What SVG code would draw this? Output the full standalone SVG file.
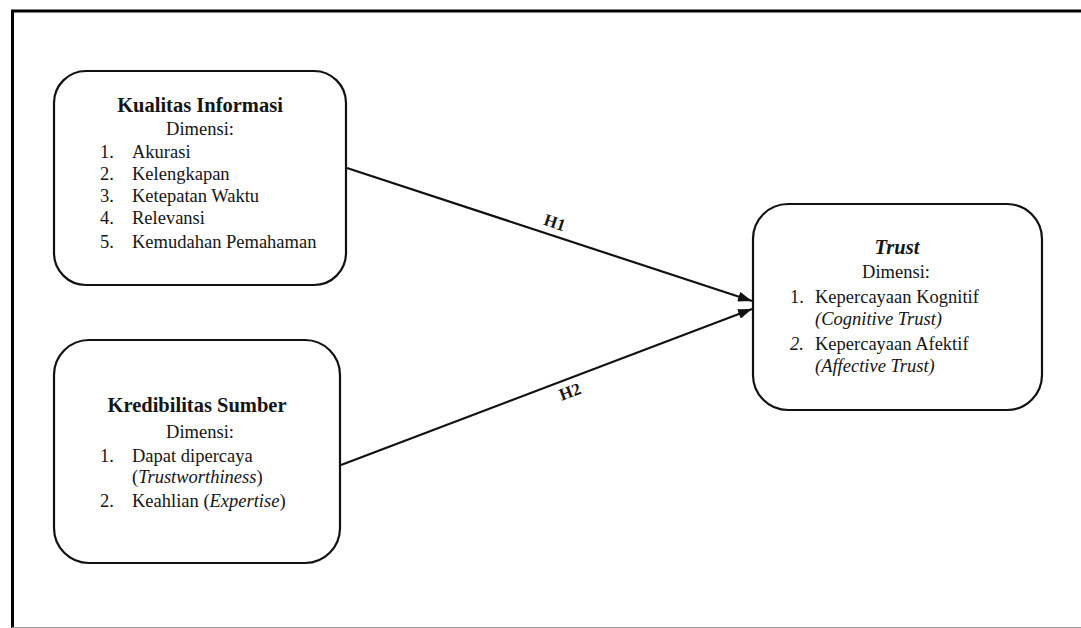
<svg xmlns="http://www.w3.org/2000/svg" width="1081" height="628" viewBox="0 0 1081 628">
<style>
.box{fill:#fff;stroke:#111;stroke-width:2.2}
text{font-family:"Liberation Serif","Times New Roman",serif;fill:#151515}
.t{font-size:20.5px;font-weight:bold;text-anchor:middle}
.r{font-size:18.5px}
.c{text-anchor:middle}
.i{font-style:italic}
.lab{font-size:17px;font-weight:bold;text-anchor:middle}
.conn{stroke:#111;stroke-width:2.2;fill:none}
</style>
<defs>
<marker id="arr" viewBox="0 0 14 10" refX="14" refY="5" markerWidth="14" markerHeight="10" markerUnits="userSpaceOnUse" orient="auto">
<path d="M0,0 L14,5 L0,10 z" fill="#111"/>
</marker>
</defs>
<rect x="0" y="0" width="1081" height="628" fill="#fff"/>
<g id="frame">
<path d="M12.5,628 V11 H1081" fill="none" stroke="#000" stroke-width="3"/>
<line x1="12" y1="627.5" x2="1081" y2="627.5" stroke="#999" stroke-width="1"/>
</g>
<g id="connectors">
<line class="conn" x1="347" y1="168" x2="752" y2="301" marker-end="url(#arr)"/>
<line class="conn" x1="341" y1="465" x2="752" y2="309" marker-end="url(#arr)"/>
<text class="lab" transform="translate(553,228) rotate(18.2)">H1</text>
<text class="lab" transform="translate(572,397) rotate(-20.8)">H2</text>
</g>
<g id="kualitas">
<rect class="box" x="54" y="71" width="292" height="214" rx="32"/>
<text class="t" x="200" y="112">Kualitas Informasi</text>
<text class="r c" x="200" y="135">Dimensi:</text>
<text class="r" x="100" y="158">1.</text><text class="r" x="132" y="158">Akurasi</text>
<text class="r" x="100" y="180">2.</text><text class="r" x="132" y="180">Kelengkapan</text>
<text class="r" x="100" y="202">3.</text><text class="r" x="132" y="202">Ketepatan Waktu</text>
<text class="r" x="100" y="224">4.</text><text class="r" x="132" y="224">Relevansi</text>
<text class="r" x="100" y="248">5.</text><text class="r" x="132" y="248">Kemudahan Pemahaman</text>
</g>
<g id="kredibilitas">
<rect class="box" x="54" y="340" width="286" height="223" rx="35"/>
<text class="t" x="197" y="412">Kredibilitas Sumber</text>
<text class="r c" x="200" y="438">Dimensi:</text>
<text class="r" x="100" y="462">1.</text><text class="r" x="132" y="462">Dapat dipercaya</text>
<text class="r" x="132" y="483">(<tspan class="i">Trustworthiness</tspan>)</text>
<text class="r" x="100" y="507">2.</text><text class="r" x="132" y="507">Keahlian (<tspan class="i">Expertise</tspan>)</text>
</g>
<g id="trust">
<rect class="box" x="753" y="204" width="289" height="206" rx="35"/>
<text class="t i" x="897" y="254">Trust</text>
<text class="r c" x="896" y="278">Dimensi:</text>
<text class="r" x="790" y="303">1.</text><text class="r" x="815" y="303">Kepercayaan Kognitif</text>
<text class="r i" x="815" y="325">(Cognitive Trust)</text>
<text class="r i" x="790" y="350">2.</text><text class="r" x="815" y="350">Kepercayaan Afektif</text>
<text class="r i" x="815" y="372">(Affective Trust)</text>
</g>
</svg>
